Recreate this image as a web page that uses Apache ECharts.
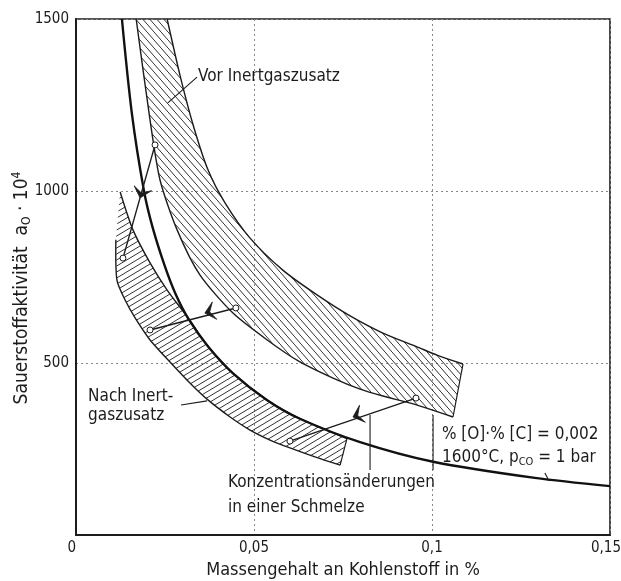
<!DOCTYPE html>
<html>
<head>
<meta charset="utf-8">
<script src="https://cdn.jsdelivr.net/npm/echarts@6/dist/echarts.min.js"></script>
<style>
  html, body { margin: 0; padding: 0; background: #fff; }
  #chart { width: 621px; height: 581px; }
</style>
</head>
<body>
<div id="chart"></div>
<script>
// Axis ticks (carbon content in %, oxygen activity a_O · 10^4)
const xTicks = [0, 0.05, 0.1, 0.15];
const xTickLabels = ['0', '0,05', '0,1', '0,15'];
const yTicks = [0, 500, 1000, 1500];
const yTickLabels = ['', '500', '1000', '1500'];

// Equilibrium curve %[O]·%[C] = 0,002 at 1600 °C, p_CO = 1 bar
const curveC = [0.0129, 0.0157, 0.0191, 0.0215, 0.0250, 0.0280, 0.0315, 0.0371, 0.0441, 0.0537, 0.0629, 0.0798, 0.1003, 0.1289, 0.1500];
const curveA = [1500, 1225, 1000, 895, 780, 700, 630, 548, 470, 392, 338, 270, 213, 166, 142];

// Scatter band before inert gas addition
const vorUpperC = [0.0256, 0.0292, 0.0329, 0.0371, 0.0419, 0.0489, 0.0581, 0.0677, 0.0770, 0.0862, 0.0958, 0.1014, 0.1087];
const vorUpperA = [1500, 1337, 1192, 1061, 965, 863, 770, 698, 637, 587, 547, 523, 497];
const vorLowerC = [0.0169, 0.0208, 0.0236, 0.0284, 0.0348, 0.0441, 0.0537, 0.0629, 0.0722, 0.0798, 0.0862, 0.0947, 0.1059];
const vorLowerA = [1500, 1206, 1032, 887, 756, 645, 567, 503, 456, 424, 404, 381, 343];

// Scatter band after inert gas addition
const nachUpperC = [0.0124, 0.0160, 0.0208, 0.0256, 0.0315, 0.0371, 0.0441, 0.0537, 0.0629, 0.0761];
const nachUpperA = [997, 887, 791, 712, 631, 548, 470, 392, 338, 280];
const nachLowerC = [0.0112, 0.0115, 0.0138, 0.0166, 0.0208, 0.0264, 0.0320, 0.0368, 0.0433, 0.0489, 0.0545, 0.0601, 0.0671, 0.0742];
const nachLowerA = [858, 741, 683, 631, 567, 503, 442, 395, 343, 305, 276, 253, 227, 203];

// Concentration changes within one melt (lower end -> upper end, arrow tip)
const moveFromC = [0.0132, 0.0208, 0.0601];
const moveFromA = [805, 596, 273];
const moveToC = [0.0222, 0.0449, 0.0955];
const moveToA = [1134, 660, 398];
const moveArrowC = [0.0180, 0.0362, 0.0778];
const moveArrowA = [980, 645, 343];

// Annotation texts, anchored at their left end
const noteText = [
  'Vor Inertgaszusatz',
  'Nach Inert-',
  'gaszusatz',
  'Konzentrationsänderungen',
  'in einer Schmelze',
  '% [O]·% [C] = 0,002',
  '1600°C, p{sub|CO} = 1 bar'
];
const noteC = [0.0343, 0.0034, 0.0034, 0.0427, 0.0427, 0.1028, 0.1028];
const noteA = [1334, 401, 346, 151, 81, 291, 224];

// Leader lines from the texts to the marks
const leaderFromC = [0.0340, 0.0295, 0.0826, 0.1003, 0.1317];
const leaderFromA = [1331, 378, 349, 349, 180];
const leaderToC = [0.0258, 0.0368, 0.0826, 0.1003, 0.1329];
const leaderToA = [1256, 390, 189, 189, 157];

const FONT = '"DejaVu Sans Condensed", "Liberation Sans Narrow", "DejaVu Sans", sans-serif';
const INK = '#1c1c1c';

// diagonal hatch tile; dir '\\' falls to the right, '/' rises to the right
function hatch(w, h, dir) {
  const c = document.createElement('canvas');
  c.width = w; c.height = h;
  const g = c.getContext('2d');
  g.strokeStyle = '#333';
  g.lineWidth = 1;
  g.beginPath();
  for (let k = -1; k <= 1; k++) {
    if (dir === '\\') { g.moveTo(0, k * h); g.lineTo(w, h + k * h); }
    else { g.moveTo(0, h + k * h); g.lineTo(w, k * h); }
  }
  g.stroke();
  return { image: c, repeat: 'repeat' };
}
const vorPattern = hatch(7, 8, '\\');
const nachPattern = hatch(10, 6, '/');

function pts(api, cs, as) {
  return cs.map((c, i) => api.coord([c, as[i]]));
}

function bandSeries(name, upC, upA, loC, loA, pattern) {
  return {
    name: name,
    type: 'custom',
    coordinateSystem: 'cartesian2d',
    silent: true,
    z: 2,
    data: [[upC[0], upA[0]]],
    renderItem: function (params, api) {
      const up = pts(api, upC, upA);
      const lo = pts(api, loC, loA);
      const poly = up.concat(lo.slice().reverse());
      return {
        type: 'group',
        children: [
          { type: 'polygon', shape: { points: poly, smooth: 0 }, style: { fill: pattern, stroke: null } },
          { type: 'polyline', shape: { points: up, smooth: 0.25 }, style: { stroke: INK, lineWidth: 1.4, fill: null } },
          { type: 'polyline', shape: { points: lo, smooth: 0.25 }, style: { stroke: INK, lineWidth: 1.4, fill: null } },
          { type: 'line', shape: { x1: up[up.length - 1][0], y1: up[up.length - 1][1], x2: lo[lo.length - 1][0], y2: lo[lo.length - 1][1] }, style: { stroke: INK, lineWidth: 1.2 } }
        ]
      };
    }
  };
}

const chart = echarts.init(document.getElementById('chart'), null, { renderer: 'canvas' });

chart.setOption({
  animation: false,
  backgroundColor: '#fff',
  grid: {
    left: 76, right: 11, top: 19, bottom: 46,
    outerBoundsMode: 'none', containLabel: false,
    show: true, borderColor: INK, borderWidth: 1.6
  },
  xAxis: {
    type: 'value', min: 0, max: 0.15, interval: 0.05,
    name: 'Massengehalt an Kohlenstoff in %',
    nameLocation: 'middle', nameGap: 26, nameMoveOverlap: false,
    nameTextStyle: { fontFamily: FONT, fontSize: 18, color: INK },
    axisLine: { show: true, lineStyle: { color: INK, width: 2 } },
    axisTick: { show: false },
    axisLabel: {
      fontFamily: FONT, fontSize: 15, color: INK, margin: 6,
      alignMinLabel: 'right',
      formatter: v => {
        const i = xTicks.findIndex(t => Math.abs(t - v) < 1e-9);
        if (i < 0) return '';
        // the last label sits against the right frame edge
        return i === xTicks.length - 1 ? '{last|' + xTickLabels[i] + '}' : xTickLabels[i];
      },
      rich: { last: { fontFamily: FONT, fontSize: 15, color: INK, padding: [0, 8, 0, 0] } }
    },
    splitLine: { show: true, lineStyle: { color: '#888', width: 1, type: [2, 3] } }
  },
  yAxis: {
    type: 'value', min: 0, max: 1500, interval: 500,
    name: 'Sauerstoffaktivität  a{sub|O} · 10{sup|4}',
    nameLocation: 'middle', nameGap: 43, nameRotate: 90, nameMoveOverlap: false,
    nameTextStyle: {
      fontFamily: FONT, fontSize: 19, color: INK, lineHeight: 22,
      padding: [0, 22, 0, 0],
      rich: {
        sub: { fontFamily: FONT, fontSize: 12, color: INK, verticalAlign: 'bottom', lineHeight: 22 },
        sup: { fontFamily: FONT, fontSize: 12, color: INK, verticalAlign: 'top', lineHeight: 22 }
      }
    },
    axisLine: { show: true, lineStyle: { color: INK, width: 2 } },
    axisTick: { show: false },
    axisLabel: {
      fontFamily: FONT, fontSize: 15, color: INK, margin: 7,
      formatter: v => yTickLabels[yTicks.indexOf(v)] ?? ''
    },
    splitLine: { show: true, lineStyle: { color: '#888', width: 1, type: [2, 3] } }
  },
  series: [
    bandSeries('Vor Inertgaszusatz', vorUpperC, vorUpperA, vorLowerC, vorLowerA, vorPattern),
    bandSeries('Nach Inertgaszusatz', nachUpperC, nachUpperA, nachLowerC, nachLowerA, nachPattern),
    {
      name: '%[O]·%[C] = 0,002',
      type: 'line',
      z: 4,
      data: curveC.map((c, i) => [c, curveA[i]]),
      smooth: 0.3,
      symbol: 'none',
      lineStyle: { color: '#111', width: 2.4 },
      silent: true
    },
    {
      name: 'Konzentrationsänderungen',
      type: 'custom',
      coordinateSystem: 'cartesian2d',
      silent: true,
      z: 5,
      data: moveFromC.map((c, i) => [c, moveFromA[i]]),
      renderItem: function (params, api) {
        const i = params.dataIndex;
        const p1 = api.coord([moveFromC[i], moveFromA[i]]);
        const p2 = api.coord([moveToC[i], moveToA[i]]);
        const t = api.coord([moveArrowC[i], moveArrowA[i]]);
        let dx = p1[0] - p2[0], dy = p1[1] - p2[1];
        const len = Math.hypot(dx, dy);
        dx /= len; dy /= len;
        const nx = -dy, ny = dx;
        const back = [t[0] - dx * 10, t[1] - dy * 10];
        const notch = [t[0] - dx * 5, t[1] - dy * 5];
        const head = [t, [back[0] + nx * 9, back[1] + ny * 9], notch, [back[0] - nx * 9, back[1] - ny * 9]];
        return {
          type: 'group',
          children: [
            { type: 'line', shape: { x1: p1[0], y1: p1[1], x2: p2[0], y2: p2[1] }, style: { stroke: INK, lineWidth: 1.4 } },
            { type: 'polygon', shape: { points: head }, style: { fill: INK, stroke: INK, lineWidth: 0.8 } },
            { type: 'circle', shape: { cx: p1[0], cy: p1[1], r: 3 }, style: { fill: '#fff', stroke: INK, lineWidth: 1 } },
            { type: 'circle', shape: { cx: p2[0], cy: p2[1], r: 3 }, style: { fill: '#fff', stroke: INK, lineWidth: 1 } }
          ]
        };
      }
    },
    {
      name: 'Hinweislinien',
      type: 'custom',
      coordinateSystem: 'cartesian2d',
      silent: true,
      z: 5,
      data: leaderFromC.map((c, i) => [c, leaderFromA[i]]),
      renderItem: function (params, api) {
        const i = params.dataIndex;
        const a = api.coord([leaderFromC[i], leaderFromA[i]]);
        const b = api.coord([leaderToC[i], leaderToA[i]]);
        return { type: 'line', shape: { x1: a[0], y1: a[1], x2: b[0], y2: b[1] }, style: { stroke: INK, lineWidth: 1.1 } };
      }
    },
    {
      name: 'Beschriftung',
      type: 'custom',
      coordinateSystem: 'cartesian2d',
      silent: true,
      z: 6,
      data: noteC.map((c, i) => [c, noteA[i]]),
      renderItem: function (params, api) {
        const i = params.dataIndex;
        const p = api.coord([noteC[i], noteA[i]]);
        return {
          type: 'text',
          x: p[0], y: p[1],
          style: {
            text: noteText[i],
            fontFamily: FONT, fontSize: 17, fill: INK,
            align: 'left', verticalAlign: 'middle',
            rich: {
              sub: { fontFamily: FONT, fontSize: 11, fill: INK, verticalAlign: 'bottom', lineHeight: 20 }
            }
          }
        };
      }
    }
  ]
});
</script>
</body>
</html>
